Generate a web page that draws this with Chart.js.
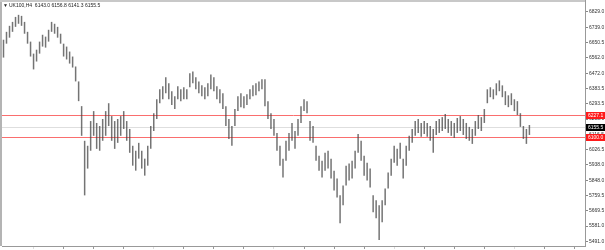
<!DOCTYPE html>
<html>
<head>
<meta charset="utf-8">
<script src="https://cdn.jsdelivr.net/npm/chart.js@4.4.1/dist/chart.umd.min.js"></script>
<style>
html, body { margin: 0; padding: 0; background: #fff; overflow: hidden; }
#wrap { width: 605px; height: 250px; }
</style>
</head>
<body>
<div id="wrap"><canvas id="myChart"></canvas></div>
<script>
// UK100 H4 bars (high / low of each bar group)
const highs = [6667,6713,6748,6771,6800,6812,6806,6771,6713,6656,
  6586,6609,6656,6696,6685,6725,6771,6760,6742,6702,
  6644,6627,6598,6569,6511,6424,6280,6078,6049,6193,
  6251,6182,6164,6205,6251,6297,6222,6193,6205,6222,
  6251,6193,6147,6049,6020,6066,6020,5974,6049,6164,
  6239,6320,6378,6396,6448,6413,6367,6338,6396,6378,
  6390,6378,6471,6482,6448,6424,6401,6390,6413,6465,
  6448,6396,6378,6355,6280,6205,6164,6263,6338,6355,
  6338,6349,6378,6401,6413,6424,6436,6436,6309,6239,
  6205,6124,6049,5974,6078,6124,6182,6135,6205,6280,
  6320,6309,6193,6164,6049,5991,5962,6008,6020,5974,
  5904,5858,5760,5818,5933,5945,5962,6020,6118,6078,
  5991,5950,5916,5760,5731,5702,5731,5800,5893,5974,
  6049,6031,6066,5974,6049,6107,6147,6193,6205,6182,
  6193,6182,6164,6147,6193,6205,6216,6234,6205,6193,
  6182,6211,6222,6205,6182,6159,6147,6193,6228,6216,
  6263,6378,6390,6378,6413,6430,6401,6367,6343,6355,
  6320,6309,6239,6164,6147,6170];
const lows = [6563,6644,6679,6713,6742,6760,6748,6702,6644,6569,
  6494,6540,6586,6627,6621,6656,6713,6702,6679,6644,
  6569,6552,6528,6505,6424,6309,6107,5760,5916,6020,
  6107,6031,6020,6078,6107,6164,6078,6031,6066,6107,
  6147,6078,6008,5933,5904,5974,5916,5875,5933,6031,
  6135,6205,6297,6320,6355,6320,6286,6263,6320,6309,
  6320,6320,6390,6413,6378,6355,6338,6320,6338,6378,
  6367,6320,6297,6263,6164,6089,6049,6164,6251,6274,
  6268,6286,6320,6338,6343,6367,6378,6280,6205,6147,
  6107,6020,5933,5864,5962,6020,6078,6031,6107,6182,
  6251,6239,6078,6066,5962,5904,5864,5904,5916,5858,
  5789,5748,5598,5702,5818,5847,5858,5916,6008,5962,
  5875,5847,5806,5661,5627,5500,5604,5702,5800,5875,
  5950,5933,5974,5858,5933,6020,6066,6107,6124,6101,
  6118,6101,6078,6008,6112,6124,6135,6147,6124,6107,
  6095,6124,6135,6112,6089,6078,6060,6107,6147,6135,
  6182,6297,6332,6320,6343,6367,6332,6286,6274,6286,
  6251,6228,6159,6089,6060,6112];
const priceTicks = [6829.0, 6739.0, 6650.5, 6562.0, 6472.0, 6383.5, 6293.5, 6205.0,
  6116.5, 6026.5, 5938.0, 5848.0, 5759.5, 5669.5, 5581.0, 5491.0];
const levels = [6227.1, 6100.0];
const lastPrice = 6155.5;
const header = 'UK100,H4  6143.0 6156.8 6141.3 6155.5';
const emptySlots = 18;

const labels = [];
const bars = [];
for (let i = 0; i < highs.length + emptySlots; i++) {
  labels.push(String(i));
  bars.push(i < highs.length ? [lows[i], highs[i]] : null);
}

const fontFam = "'Liberation Sans', Arial, sans-serif";

const mtPlugin = {
  id: 'mt',
  beforeDatasetsDraw(chart) {
    const c = chart.ctx, a = chart.chartArea, y = chart.scales.y;
    c.save();
    c.lineWidth = 1;
    c.strokeStyle = '#dedede';
    let py = Math.round(y.getPixelForValue(lastPrice)) + 0.5;
    c.beginPath(); c.moveTo(a.left, py); c.lineTo(a.right, py); c.stroke();
    c.strokeStyle = 'rgb(250, 110, 110)';
    levels.forEach(v => {
      const ly = Math.round(y.getPixelForValue(v)) + 0.5;
      c.beginPath(); c.moveTo(a.left, ly); c.lineTo(a.right, ly); c.stroke();
    });
    c.restore();
  },
  afterDraw(chart) {
    const c = chart.ctx, a = chart.chartArea, y = chart.scales.y;
    c.save();
    // frame
    c.fillStyle = '#b4b4b4';
    c.fillRect(0, 0, 2, a.bottom);
    c.fillStyle = '#c8c8c8';
    c.fillRect(0, 0, a.right, 2);
    c.fillStyle = '#999';
    c.fillRect(a.right, 0, 1, a.bottom + 1);
    // header
    c.font = '5px ' + fontFam;
    c.fillStyle = '#222';
    c.textBaseline = 'middle';
    c.fillText('\u25BC', 3, 5.5);
    c.fillText(header, 9, 5.5);
    // price boxes
    const box = (v, bg) => {
      const py = y.getPixelForValue(v);
      c.fillStyle = bg;
      c.fillRect(a.right + 1, Math.round(py) - 3, 19, 7);
      c.fillStyle = '#fff';
      c.fillText(v.toFixed(1), a.right + 3, Math.round(py) + 0.5);
    };
    levels.forEach(v => box(v, '#ff1a1a'));
    box(lastPrice, '#000');
    c.restore();
  }
};

const ctx = document.getElementById('myChart').getContext('2d');
const myChart = new Chart(ctx, {
  type: 'bar',
  data: {
    labels: labels,
    datasets: [{
      data: bars,
      backgroundColor: 'rgba(70, 70, 70, 0.75)',
      borderWidth: 0,
      barPercentage: 0.5,
      categoryPercentage: 1
    }]
  },
  options: {
    responsive: true,
    maintainAspectRatio: false,
    animation: false,
    devicePixelRatio: 1,
    layout: { padding: { top: 2, left: 2, right: 0, bottom: 0 } },
    plugins: { legend: { display: false }, tooltip: { enabled: false } },
    scales: {
      x: {
        grid: {
          drawOnChartArea: false,
          tickLength: 3,
          offset: false,
          color: c => (c.index % 4 === 0 ? '#dddddd' : '#999999')
        },
        border: { display: true, color: '#999' },
        ticks: { display: false },
        afterBuildTicks: s => { s.ticks = s.ticks.filter((t, i) => i > 0 && i % 10 === 0); },
        afterFit: s => { s.height = 4; }
      },
      y: {
        position: 'right',
        min: 5464.9,
        max: 6875.2,
        grid: { drawOnChartArea: false, tickLength: 3, color: '#888' },
        border: { display: true, color: '#999' },
        ticks: {
          autoSkip: false,
          padding: 1,
          color: '#333',
          font: { size: 5, family: fontFam },
          callback: v => Number(v).toFixed(1)
        },
        afterBuildTicks: s => { s.ticks = priceTicks.map(v => ({ value: v })); },
        afterFit: s => { s.width = 20; }
      }
    }
  },
  plugins: [mtPlugin]
});
</script>
</body>
</html>
